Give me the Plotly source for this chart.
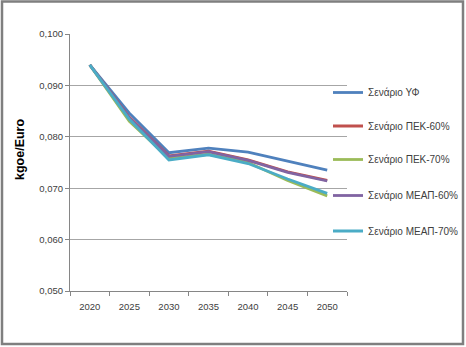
import plotly.graph_objects as go

years = ["2020", "2025", "2030", "2035", "2040", "2045", "2050"]
series_names = ["Σενάριο ΥΦ", "Σενάριο ΠΕΚ-60%", "Σενάριο ΠΕΚ-70%", "Σενάριο ΜΕΑΠ-60%", "Σενάριο ΜΕΑΠ-70%"]
yf = [0.0940, 0.0846, 0.0769, 0.0778, 0.0770, 0.0752, 0.0735]
pek60 = [0.0940, 0.0838, 0.0763, 0.0772, 0.0755, 0.0732, 0.0715]
pek70 = [0.0940, 0.0830, 0.0758, 0.0766, 0.0750, 0.0715, 0.0685]
meap60 = [0.0940, 0.0837, 0.0762, 0.0771, 0.0754, 0.0731, 0.0714]
meap70 = [0.0940, 0.0834, 0.0755, 0.0765, 0.0748, 0.0718, 0.0690]
colors = ["#4F81BD", "#C0504D", "#9BBB59", "#8064A2", "#4BACC6"]
y_title = "kgoe/Euro"

W, H = 466, 347
L, R, T, B = 70, 119, 34, 56
font_fam = "Liberation Sans Narrow, Arial Narrow, sans-serif"
legend_y_px = [92.5, 126, 159.5, 195.5, 231]

pw, ph = W - L - R, H - T - B
def px_x(p):
    return (p - L) / pw
def px_y(p):
    return (H - B - p) / ph

fig = go.Figure()
legend_layouts = {}
for i, (name, vals, col) in enumerate(zip(series_names, [yf, pek60, pek70, meap60, meap70], colors)):
    lg = "legend" if i == 0 else "legend%d" % (i + 1)
    fig.add_trace(go.Scatter(x=years, y=vals, name=name, mode="lines", legend=lg,
                             line=dict(color=col, width=2.8)))
    legend_layouts[lg] = dict(x=px_x(328), y=px_y(legend_y_px[i]), xanchor="left", yanchor="middle",
                              font=dict(family=font_fam, size=10, color="#404040"),
                              bgcolor="rgba(0,0,0,0)", borderwidth=0)

fig.update_layout(
    width=W, height=H,
    margin=dict(l=L, r=R, t=T, b=B, autoexpand=False),
    paper_bgcolor="white", plot_bgcolor="white",
    separators=",.",
    showlegend=True,
    xaxis=dict(type="category", showgrid=False, showline=True, linecolor="#868686", linewidth=1,
               ticks="outside", tickson="boundaries", ticklen=4, tickcolor="#868686",
               ticklabelstandoff=7,
               tickfont=dict(family=font_fam, size=9.5, color="#404040"), range=[-0.5, 6.5]),
    yaxis=dict(range=[0.05, 0.1], dtick=0.01, tickformat=".3f", showgrid=True,
               gridcolor="#A6A6A6", gridwidth=1.3, showline=True, linecolor="#868686", linewidth=1,
               ticks="outside", ticklen=4, tickcolor="#868686", zeroline=False,
               tickfont=dict(family=font_fam, size=9.5, color="#404040")),
    annotations=[dict(text="<b>" + y_title + "</b>", textangle=-90, xref="paper", yref="paper",
                      x=px_x(20), y=px_y(150), xanchor="center", yanchor="middle", showarrow=False,
                      font=dict(family="Liberation Sans, Arial, sans-serif", size=12.5, color="black"))],
    shapes=[dict(type="rect", xref="paper", yref="paper",
                 x0=px_x(2), x1=px_x(463), y0=px_y(344), y1=px_y(1.5),
                 line=dict(color="#7F7F7F", width=2.5), fillcolor="rgba(0,0,0,0)", layer="below")],
    **legend_layouts,
)
fig.write_html("out.html")
